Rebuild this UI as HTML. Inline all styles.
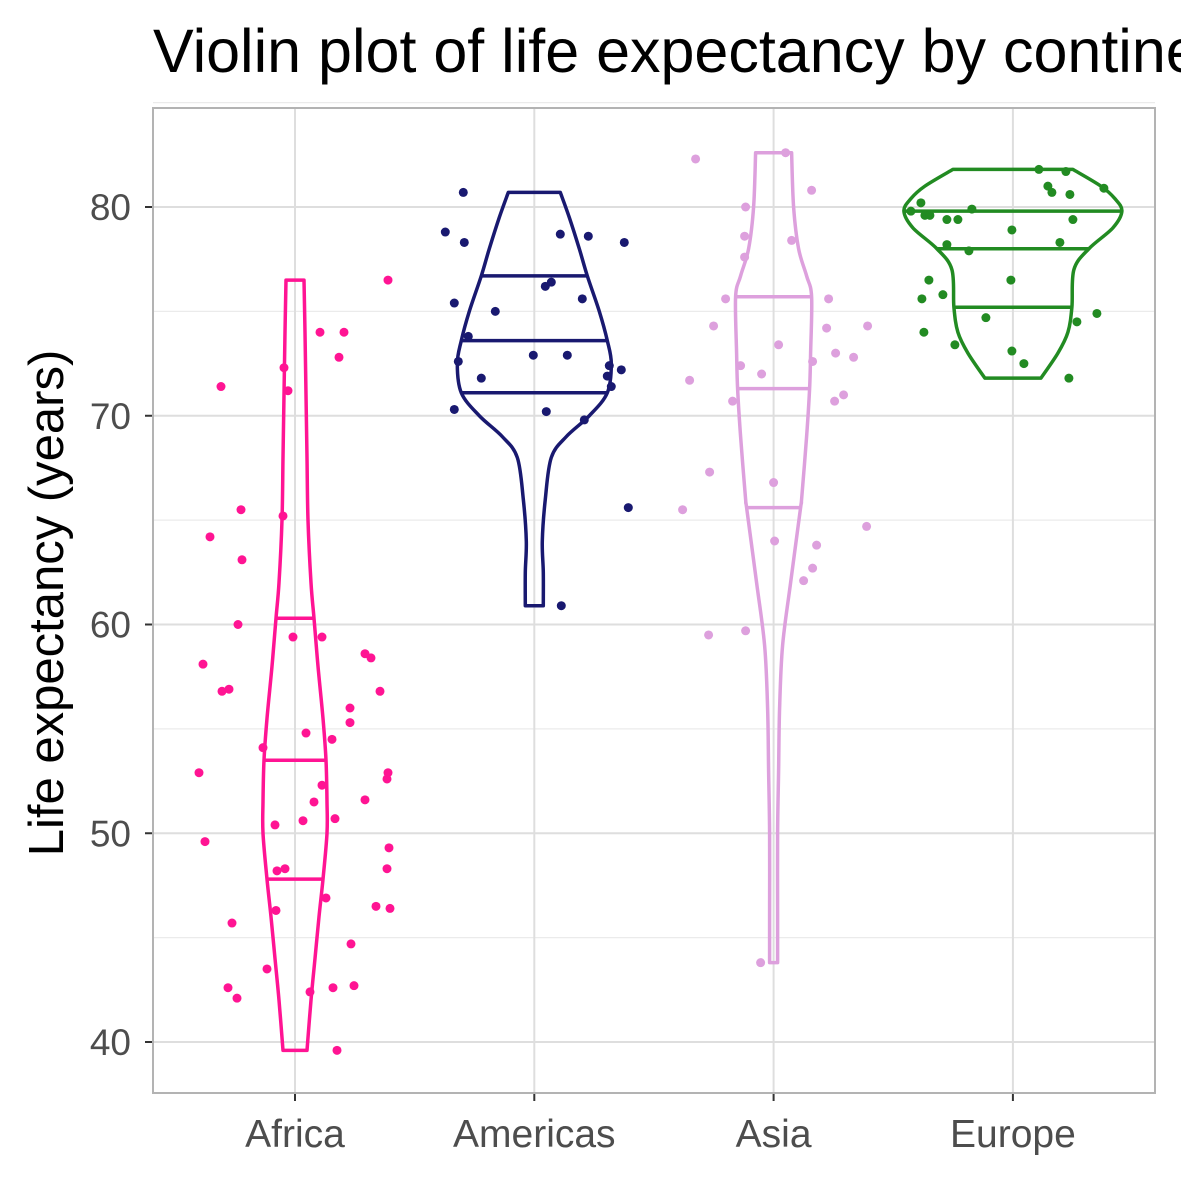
<!DOCTYPE html>
<html><head><meta charset="utf-8"><style>
body{margin:0;background:#fff;overflow:hidden}
svg text{font-family:"Liberation Sans",sans-serif}
</style></head><body>
<svg id="chart" width="1181" height="1181" viewBox="0 0 1181 1181" xmlns="http://www.w3.org/2000/svg">
<text x="153" y="72" font-size="61" fill="#000">Violin plot of life expectancy by continent</text>
<text transform="translate(63,603) rotate(-90)" text-anchor="middle" font-size="49" fill="#000">Life expectancy (years)</text>
<g id="grid"></g><g id="marks"></g><g id="axes"></g>
<rect x="153" y="108" width="1002" height="985" fill="none" stroke="#b3b3b3" stroke-width="2"/>
</svg>
<script>
const categories=["Africa","Americas","Asia","Europe"];
const colors=["#ff1493","#191970","#dda0dd","#228b22"];
const yTicks=[40,50,60,70,80];
const yMinor=[45,55,65,75,85];
const vLevels=[
 [76.5,74,71,68,65,62,60.3,58,55.5,53.5,51.5,50,47.8,46,44,42,39.6],
 [80.7,79.5,78,76.7,75,73.6,72.5,71.1,70,69,68,66,64,62.5,60.9],
 [82.6,80,78,76.7,75.7,73,71.3,69,66,65.6,62,59,56,53,50,46,43.8],
 [81.8,81,80.4,79.8,79,78,77,75.2,74,73,71.8]];
const vWidths=[
 [9,10,11,12,13,16,19,23,28,31,32,32,28,24,20,16,12],
 [26,35,45,53,65,73,77,73,55,32,17,11,8,9,9],
 [18,20,25,33,38,37,36,33,28,27,17,9,6,5,4,4,4],
 [60,88,102,109,100,76,61,59,55,45,28]];
const quantiles=[[47.8,53.5,60.3],[71.1,73.6,76.7],[65.6,71.3,75.7],[75.2,78,79.8]];
const jitter=[
 [93,-74,-11,-7,25,49,44,-54,-85,-12,-53,-57,-2,27,-92,70,76,-73,-66,85,55,55,11,37,-32,-96,93,92,27,70,19,40,8,-20,-90,94,-18,-10,92,31,81,95,-19,-63,56,-28,-67,-58,15,38,59,42],
 [-71,-89,-70,26,54,90,-80,-39,11,17,48,-66,-76,-53,-1,33,75,87,73,77,-80,12,50,94,27],
 [-78,12,38,-28,-29,18,-29,-48,55,-60,53,94,5,62,80,-33,39,-12,-84,70,61,-41,-64,0,-91,93,1,43,39,30,-28,-65,-13],
 [26,53,-92,35,39,57,91,-102,-88,-83,-66,-55,-41,60,-1,-66,-44,47,-84,-2,-91,-70,-27,64,84,-89,-58,-1,11,56]];
const values=[
 [76.5,71.4,72.3,71.2,74.0,74.0,72.8,65.5,64.2,65.2,63.1,60.0,59.4,59.4,58.1,58.6,58.4,56.8,56.9,56.8,56.0,55.3,54.8,54.5,54.1,52.9,52.9,52.6,52.3,51.6,51.5,50.7,50.6,50.4,49.6,49.3,48.2,48.3,48.3,46.9,46.5,46.4,46.3,45.7,44.7,43.5,42.6,42.1,42.4,42.6,42.7,39.6],
 [80.7,78.8,78.3,78.7,78.6,78.3,75.4,75.0,76.2,76.4,75.6,73.8,72.6,71.8,72.9,72.9,72.4,72.2,71.9,71.4,70.3,70.2,69.8,65.6,60.9],
 [82.3,82.6,80.8,80.0,78.6,78.4,77.6,75.6,75.6,74.3,74.2,74.3,73.4,73.0,72.8,72.4,72.6,72.0,71.7,71.0,70.7,70.7,67.3,66.8,65.5,64.7,64.0,63.8,62.7,62.1,59.7,59.5,43.8],
 [81.8,81.7,80.2,81.0,80.7,80.6,80.9,79.8,79.6,79.6,79.4,79.4,79.9,79.4,78.9,78.2,77.9,78.3,76.5,76.5,75.6,75.8,74.7,74.5,74.9,74.0,73.4,73.1,72.5,71.8]];
const NS="http://www.w3.org/2000/svg";
const yS=v=>1042-(v-40)*20.875;
const xS=i=>295+i*239.3;
function mk(t,a,p){const e=document.createElementNS(NS,t);for(const k in a)e.setAttribute(k,a[k]);p.appendChild(e);return e;}
const grid=document.getElementById('grid'),marks=document.getElementById('marks'),axes=document.getElementById('axes');
yMinor.forEach(v=>{const l=mk('line',{x1:153,x2:1155,y1:yS(v),y2:yS(v),stroke:'#ebebeb','stroke-width':1.2},grid);

});
yTicks.forEach(v=>{const l=mk('line',{x1:153,x2:1155,y1:yS(v),y2:yS(v),stroke:'#dedede','stroke-width':2},grid);


mk('line',{x1:145,x2:153,y1:yS(v),y2:yS(v),stroke:'#333','stroke-width':2},axes);
const t=mk('text',{x:131,y:yS(v)+13,'text-anchor':'end','font-size':37,fill:'#4d4d4d'},axes);t.textContent=v;

});
categories.forEach((c,i)=>{const x=xS(i);
const l=mk('line',{x1:x,x2:x,y1:108,y2:1093,stroke:'#dedede','stroke-width':2},grid);


mk('line',{x1:x,x2:x,y1:1093,y2:1101,stroke:'#333','stroke-width':2},axes);
const t=mk('text',{x:x,y:1147,'text-anchor':'middle','font-size':39,fill:'#4d4d4d'},axes);t.textContent=c;


const g=mk('g',{},marks);


const L=vLevels[i],W=vWidths[i];
const right=L.map((v,k)=>[x+W[k],yS(v)]),left=L.map((v,k)=>[x-W[k],yS(v)]).reverse();
let d='M'+right[0].join(',');
function seg(arr){let s='';for(let k=0;k<arr.length-1;k++){const p0=arr[Math.max(0,k-1)],p1=arr[k],p2=arr[k+1],p3=arr[Math.min(arr.length-1,k+2)];
s+=` C${p1[0]+(p2[0]-p0[0])/6},${p1[1]+(p2[1]-p0[1])/6} ${p2[0]-(p3[0]-p1[0])/6},${p2[1]-(p3[1]-p1[1])/6} ${p2[0]},${p2[1]}`;}return s;}
d+=seg(right)+' L'+left[0].join(',')+seg(left)+' Z';
mk('path',{d:d,fill:'none',stroke:colors[i],'stroke-width':3.5,'stroke-linejoin':'round'},g);
function hw(v){for(let k=0;k<L.length-1;k++){if(v<=L[k]&&v>=L[k+1]){const f=(L[k]-v)/(L[k]-L[k+1]);return W[k]+f*(W[k+1]-W[k]);}}return 0;}
quantiles[i].forEach(q=>{const ql=mk('line',{x1:x-hw(q),x2:x+hw(q),y1:yS(q),y2:yS(q),stroke:colors[i],'stroke-width':3.5},g);

});
values[i].forEach((v,k)=>{const p=mk('circle',{cx:x+jitter[i][k],cy:yS(v),r:4.5,fill:colors[i]},marks);

});
});
</script>
</body></html>
